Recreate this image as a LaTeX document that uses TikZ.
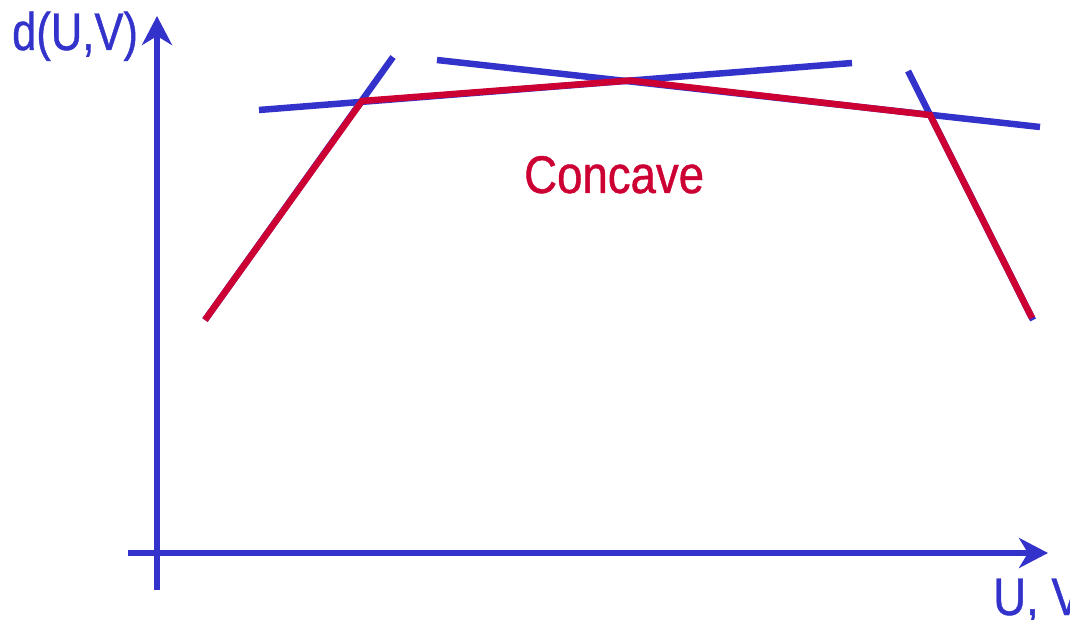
\documentclass[tikz,border=0pt]{standalone}
\usepackage{fontspec}
\setmainfont{Liberation Sans}
\newfontfamily\narrowfont[FakeStretch=0.86,FakeBold=0.8]{Liberation Sans}
\usetikzlibrary{arrows.meta}
\definecolor{axblue}{RGB}{51,51,204}
\definecolor{cvred}{RGB}{204,0,51}
\begin{document}
\begin{tikzpicture}[x=1pt,y=-1pt,
  axis/.style={draw=axblue,line width=6.5pt,-{Stealth[length=29pt,width=30pt,inset=9pt]}},
  tangent/.style={draw=axblue,line width=6.5pt},
  curve/.style={draw=cvred,line width=6.5pt,line join=miter},
  lbl/.style={font=\narrowfont\fontsize{53}{53}\selectfont,inner sep=0pt,anchor=base west}]
\useasboundingbox (0,0) rectangle (1070,620);
\clip (0,0) rectangle (1070,620);
% axes
\coordinate (yb) at (157,590);
\coordinate (yt) at (157,16);
\coordinate (xl) at (128,553);
\coordinate (xr) at (1048,553);
\draw[axis] (yb) -- (yt);
\draw[axis] (xl) -- (xr);
% tangent lines
\coordinate (a1) at (205,320);
\coordinate (a2) at (393,57);
\coordinate (b1) at (259,110);
\coordinate (b2) at (852,63);
\coordinate (c1) at (437,60);
\coordinate (c2) at (1040,127);
\coordinate (d1) at (908,71);
\coordinate (d2) at (1033,320);
\draw[tangent] (a1) -- (a2);
\draw[tangent] (b1) -- (b2);
\draw[tangent] (c1) -- (c2);
\draw[tangent] (d1) -- (d2);
% concave envelope
\coordinate (p1) at (205,320);
\coordinate (p2) at (362,101);
\coordinate (p3) at (630,80.5);
\coordinate (p4) at (930,115);
\coordinate (p5) at (1032,318);
\draw[curve] (p1) -- (p2) -- (p3) -- (p4) -- (p5);
% labels
\node[lbl,text=axblue,xscale=0.955] (ylab) at (12,50) {d(U,V)};
\node[lbl,text=axblue] (xlab) at (993,615) {U, V};
\node[lbl,text=cvred] (clab) at (524,193) {Concave};
\end{tikzpicture}
\end{document}
